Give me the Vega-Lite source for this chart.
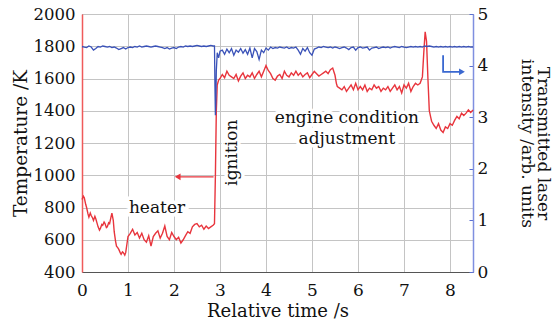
{
  "$schema": "https://vega.github.io/schema/vega-lite/v6.json",
  "width": 391,
  "height": 258,
  "autosize": {"type": "none"},
  "padding": {"left": 82, "top": 14, "right": 80, "bottom": 51},
  "background": "white",
  "config": {
    "view": {"stroke": "#555555", "strokeWidth": 1},
    "font": "DejaVu Serif",
    "axis": {"labelFont": "DejaVu Serif", "titleFont": "DejaVu Serif", "labelColor": "#111", "titleColor": "#111", "titleFontWeight": "normal"}
  },
  "datasets": {
    "temp": [
      {"t":0.00,"K":850},{"t":0.03,"K":870},{"t":0.05,"K":860},{"t":0.08,"K":820},{"t":0.10,"K":800},{"t":0.13,"K":760},{"t":0.15,"K":740},{"t":0.18,"K":765},{"t":0.20,"K":750},{"t":0.23,"K":735},{"t":0.25,"K":720},{"t":0.28,"K":745},{"t":0.30,"K":730},{"t":0.33,"K":700},{"t":0.35,"K":680},{"t":0.38,"K":660},{"t":0.40,"K":670},{"t":0.43,"K":695},{"t":0.45,"K":690},{"t":0.48,"K":710},{"t":0.50,"K":700},{"t":0.53,"K":675},{"t":0.55,"K":680},{"t":0.58,"K":705},{"t":0.60,"K":700},{"t":0.63,"K":740},{"t":0.65,"K":765},{"t":0.68,"K":720},{"t":0.70,"K":650},{"t":0.73,"K":590},{"t":0.75,"K":560},{"t":0.78,"K":550},{"t":0.80,"K":540},{"t":0.83,"K":520},{"t":0.85,"K":510},{"t":0.88,"K":525},{"t":0.90,"K":520},{"t":0.93,"K":505},{"t":0.95,"K":520},{"t":0.98,"K":580},{"t":1.00,"K":620},{"t":1.05,"K":640},{"t":1.10,"K":665},{"t":1.15,"K":630},{"t":1.20,"K":645},{"t":1.25,"K":610},{"t":1.30,"K":640},{"t":1.35,"K":600},{"t":1.40,"K":585},{"t":1.45,"K":625},{"t":1.50,"K":560},{"t":1.55,"K":620},{"t":1.60,"K":640},{"t":1.65,"K":655},{"t":1.70,"K":610},{"t":1.75,"K":640},{"t":1.80,"K":685},{"t":1.85,"K":620},{"t":1.90,"K":600},{"t":1.95,"K":645},{"t":2.00,"K":620},{"t":2.05,"K":600},{"t":2.10,"K":615},{"t":2.15,"K":580},{"t":2.20,"K":600},{"t":2.25,"K":625},{"t":2.30,"K":650},{"t":2.35,"K":640},{"t":2.40,"K":680},{"t":2.45,"K":695},{"t":2.50,"K":700},{"t":2.55,"K":680},{"t":2.60,"K":690},{"t":2.65,"K":665},{"t":2.70,"K":685},{"t":2.75,"K":670},{"t":2.80,"K":680},{"t":2.85,"K":690},{"t":2.88,"K":700},{"t":2.90,"K":1000},{"t":2.92,"K":1400},{"t":2.94,"K":1560},{"t":2.97,"K":1590},{"t":3.00,"K":1600},{"t":3.05,"K":1625},{"t":3.10,"K":1605},{"t":3.15,"K":1645},{"t":3.20,"K":1620},{"t":3.25,"K":1610},{"t":3.30,"K":1600},{"t":3.35,"K":1625},{"t":3.40,"K":1585},{"t":3.45,"K":1615},{"t":3.50,"K":1635},{"t":3.55,"K":1600},{"t":3.60,"K":1620},{"t":3.65,"K":1610},{"t":3.70,"K":1635},{"t":3.75,"K":1600},{"t":3.80,"K":1625},{"t":3.85,"K":1645},{"t":3.90,"K":1610},{"t":3.95,"K":1645},{"t":4.00,"K":1680},{"t":4.05,"K":1650},{"t":4.10,"K":1630},{"t":4.15,"K":1600},{"t":4.20,"K":1590},{"t":4.25,"K":1615},{"t":4.30,"K":1625},{"t":4.35,"K":1600},{"t":4.40,"K":1645},{"t":4.45,"K":1620},{"t":4.50,"K":1610},{"t":4.55,"K":1635},{"t":4.60,"K":1620},{"t":4.65,"K":1645},{"t":4.70,"K":1620},{"t":4.75,"K":1635},{"t":4.80,"K":1610},{"t":4.85,"K":1625},{"t":4.90,"K":1635},{"t":4.95,"K":1605},{"t":5.00,"K":1625},{"t":5.05,"K":1645},{"t":5.10,"K":1630},{"t":5.15,"K":1615},{"t":5.20,"K":1625},{"t":5.25,"K":1635},{"t":5.30,"K":1645},{"t":5.35,"K":1630},{"t":5.40,"K":1655},{"t":5.45,"K":1665},{"t":5.50,"K":1620},{"t":5.53,"K":1570},{"t":5.55,"K":1550},{"t":5.60,"K":1540},{"t":5.65,"K":1530},{"t":5.70,"K":1550},{"t":5.75,"K":1520},{"t":5.80,"K":1540},{"t":5.85,"K":1560},{"t":5.90,"K":1530},{"t":5.95,"K":1570},{"t":6.00,"K":1530},{"t":6.05,"K":1550},{"t":6.10,"K":1530},{"t":6.15,"K":1560},{"t":6.20,"K":1520},{"t":6.25,"K":1540},{"t":6.30,"K":1530},{"t":6.35,"K":1560},{"t":6.40,"K":1540},{"t":6.45,"K":1550},{"t":6.50,"K":1520},{"t":6.55,"K":1540},{"t":6.60,"K":1530},{"t":6.65,"K":1550},{"t":6.70,"K":1520},{"t":6.75,"K":1540},{"t":6.80,"K":1560},{"t":6.85,"K":1530},{"t":6.90,"K":1550},{"t":6.95,"K":1510},{"t":7.00,"K":1560},{"t":7.05,"K":1540},{"t":7.10,"K":1570},{"t":7.15,"K":1520},{"t":7.20,"K":1550},{"t":7.25,"K":1570},{"t":7.30,"K":1560},{"t":7.35,"K":1570},{"t":7.40,"K":1610},{"t":7.43,"K":1760},{"t":7.46,"K":1890},{"t":7.49,"K":1830},{"t":7.52,"K":1600},{"t":7.55,"K":1400},{"t":7.58,"K":1360},{"t":7.60,"K":1335},{"t":7.65,"K":1310},{"t":7.70,"K":1290},{"t":7.75,"K":1320},{"t":7.80,"K":1280},{"t":7.85,"K":1265},{"t":7.90,"K":1300},{"t":7.95,"K":1290},{"t":8.00,"K":1320},{"t":8.05,"K":1310},{"t":8.10,"K":1340},{"t":8.15,"K":1365},{"t":8.20,"K":1350},{"t":8.25,"K":1385},{"t":8.30,"K":1370},{"t":8.35,"K":1385},{"t":8.40,"K":1405},{"t":8.45,"K":1390},{"t":8.50,"K":1405}
    ],
    "trans": [
      {"t":0.00,"I":4.37},{"t":0.05,"I":4.36},{"t":0.10,"I":4.35},{"t":0.15,"I":4.38},{"t":0.20,"I":4.36},{"t":0.25,"I":4.30},{"t":0.30,"I":4.33},{"t":0.35,"I":4.37},{"t":0.40,"I":4.36},{"t":0.45,"I":4.38},{"t":0.50,"I":4.37},{"t":0.55,"I":4.36},{"t":0.60,"I":4.37},{"t":0.65,"I":4.35},{"t":0.70,"I":4.36},{"t":0.75,"I":4.34},{"t":0.80,"I":4.31},{"t":0.85,"I":4.33},{"t":0.90,"I":4.35},{"t":0.95,"I":4.32},{"t":1.00,"I":4.35},{"t":1.05,"I":4.36},{"t":1.10,"I":4.35},{"t":1.15,"I":4.37},{"t":1.20,"I":4.36},{"t":1.25,"I":4.38},{"t":1.30,"I":4.36},{"t":1.35,"I":4.37},{"t":1.40,"I":4.38},{"t":1.45,"I":4.37},{"t":1.50,"I":4.36},{"t":1.55,"I":4.37},{"t":1.60,"I":4.38},{"t":1.65,"I":4.37},{"t":1.70,"I":4.36},{"t":1.75,"I":4.35},{"t":1.80,"I":4.33},{"t":1.85,"I":4.35},{"t":1.90,"I":4.32},{"t":1.95,"I":4.34},{"t":2.00,"I":4.35},{"t":2.05,"I":4.33},{"t":2.10,"I":4.36},{"t":2.15,"I":4.37},{"t":2.20,"I":4.36},{"t":2.25,"I":4.38},{"t":2.30,"I":4.37},{"t":2.35,"I":4.38},{"t":2.40,"I":4.37},{"t":2.45,"I":4.38},{"t":2.50,"I":4.39},{"t":2.55,"I":4.38},{"t":2.60,"I":4.37},{"t":2.65,"I":4.38},{"t":2.70,"I":4.37},{"t":2.75,"I":4.38},{"t":2.80,"I":4.39},{"t":2.85,"I":4.38},{"t":2.88,"I":4.38},{"t":2.89,"I":3.6},{"t":2.90,"I":3.04},{"t":2.91,"I":3.3},{"t":2.92,"I":3.9},{"t":2.94,"I":4.25},{"t":2.97,"I":4.15},{"t":3.00,"I":4.28},{"t":3.05,"I":4.30},{"t":3.10,"I":4.22},{"t":3.15,"I":4.32},{"t":3.20,"I":4.25},{"t":3.25,"I":4.33},{"t":3.30,"I":4.20},{"t":3.35,"I":4.30},{"t":3.40,"I":4.26},{"t":3.45,"I":4.33},{"t":3.50,"I":4.24},{"t":3.55,"I":4.31},{"t":3.60,"I":4.22},{"t":3.65,"I":4.34},{"t":3.70,"I":4.15},{"t":3.75,"I":4.33},{"t":3.80,"I":4.27},{"t":3.85,"I":4.12},{"t":3.90,"I":4.30},{"t":3.95,"I":4.25},{"t":4.00,"I":4.34},{"t":4.05,"I":4.30},{"t":4.10,"I":4.36},{"t":4.15,"I":4.33},{"t":4.20,"I":4.35},{"t":4.25,"I":4.34},{"t":4.30,"I":4.36},{"t":4.35,"I":4.35},{"t":4.40,"I":4.34},{"t":4.45,"I":4.36},{"t":4.50,"I":4.33},{"t":4.55,"I":4.35},{"t":4.60,"I":4.34},{"t":4.65,"I":4.36},{"t":4.70,"I":4.30},{"t":4.75,"I":4.22},{"t":4.80,"I":4.33},{"t":4.85,"I":4.28},{"t":4.90,"I":4.35},{"t":4.95,"I":4.25},{"t":5.00,"I":4.20},{"t":5.05,"I":4.32},{"t":5.10,"I":4.34},{"t":5.15,"I":4.36},{"t":5.20,"I":4.35},{"t":5.25,"I":4.37},{"t":5.30,"I":4.36},{"t":5.35,"I":4.35},{"t":5.40,"I":4.36},{"t":5.45,"I":4.34},{"t":5.50,"I":4.36},{"t":5.55,"I":4.35},{"t":5.60,"I":4.33},{"t":5.65,"I":4.35},{"t":5.70,"I":4.36},{"t":5.75,"I":4.34},{"t":5.80,"I":4.31},{"t":5.85,"I":4.35},{"t":5.90,"I":4.36},{"t":5.95,"I":4.30},{"t":6.00,"I":4.35},{"t":6.05,"I":4.36},{"t":6.10,"I":4.34},{"t":6.15,"I":4.35},{"t":6.20,"I":4.36},{"t":6.25,"I":4.30},{"t":6.30,"I":4.34},{"t":6.35,"I":4.35},{"t":6.40,"I":4.36},{"t":6.45,"I":4.33},{"t":6.50,"I":4.35},{"t":6.55,"I":4.36},{"t":6.60,"I":4.35},{"t":6.65,"I":4.36},{"t":6.70,"I":4.34},{"t":6.75,"I":4.36},{"t":6.80,"I":4.37},{"t":6.85,"I":4.36},{"t":6.90,"I":4.35},{"t":6.95,"I":4.37},{"t":7.00,"I":4.36},{"t":7.05,"I":4.35},{"t":7.10,"I":4.36},{"t":7.15,"I":4.37},{"t":7.20,"I":4.36},{"t":7.25,"I":4.37},{"t":7.30,"I":4.36},{"t":7.35,"I":4.37},{"t":7.40,"I":4.36},{"t":7.45,"I":4.38},{"t":7.50,"I":4.37},{"t":7.55,"I":4.38},{"t":7.60,"I":4.37},{"t":7.65,"I":4.36},{"t":7.70,"I":4.37},{"t":7.75,"I":4.36},{"t":7.80,"I":4.37},{"t":7.85,"I":4.36},{"t":7.90,"I":4.37},{"t":7.95,"I":4.36},{"t":8.00,"I":4.37},{"t":8.05,"I":4.36},{"t":8.10,"I":4.37},{"t":8.15,"I":4.36},{"t":8.20,"I":4.37},{"t":8.25,"I":4.36},{"t":8.30,"I":4.37},{"t":8.35,"I":4.36},{"t":8.40,"I":4.37},{"t":8.45,"I":4.36},{"t":8.50,"I":4.36}
    ],
    "labels": [
      {"label":"heater","t":1.63,"K":800,"angle":0},
      {"label":"engine condition","t":5.76,"K":1355,"angle":0},
      {"label":"adjustment","t":5.76,"K":1225,"angle":0},
      {"label":"ignition","t":3.26,"K":1140,"angle":270}
    ],
    "redArrow": [{"t":2.86,"K":990},{"t":2.12,"K":990}],
    "redHead": [{"t":2.08,"K":990}],
    "blueArrow": [{"o":1,"t":7.85,"I":4.2},{"o":2,"t":7.85,"I":3.88},{"o":3,"t":8.22,"I":3.88}],
    "blueHead": [{"t":8.26,"I":3.88}]
  },
  "encoding": {
    "x": {"field": "t", "type": "quantitative", "scale": {"domain": [0, 8.5], "nice": false},
      "axis": {"title": "Relative time /s", "titleFontSize": 18, "titlePadding": 4, "labelFontSize": 17, "format": "d", "values": [0,0.5,1,1.5,2,2.5,3,3.5,4,4.5,5,5.5,6,6.5,7,7.5,8,8.5], "labelExpr": "datum.value % 1 === 0 ? datum.label : ''", "labelOverlap": false, "grid": true, "gridColor": "#c4c4c4", "gridWidth": 1, "tickSize": 0, "domainColor": "#555", "labelPadding": 10, "labelFlush": false}}
  },
  "layer": [
    {
      "encoding": {
        "y": {"field": "K", "type": "quantitative", "scale": {"domain": [400, 2000], "nice": false},
          "axis": {"title": "Temperature /K", "titleFontSize": 18.5, "titlePadding": 3, "labelFontSize": 16.5, "format": "d", "labelOverlap": false, "values": [400,600,800,1000,1200,1400,1600,1800,2000], "grid": true, "gridColor": "#c4c4c4", "gridWidth": 1, "tickSize": 0, "domainColor": "#f05a5a", "domainWidth": 1.5, "labelPadding": 7}}
      },
      "layer": [
        {
          "data": {"name": "temp"},
          "mark": {"type": "line", "color": "#e8353d", "strokeWidth": 1.4}
        },
        {
          "data": {"name": "redArrow"},
          "mark": {"type": "line", "color": "#e8353d", "strokeWidth": 1.3}
        },
        {
          "data": {"name": "redHead"},
          "mark": {"type": "point", "shape": "triangle-left", "filled": true, "color": "#e8353d", "size": 45, "opacity": 1}
        },
        {
          "data": {"name": "labels"},
          "mark": {"type": "text", "font": "DejaVu Serif", "fontSize": 17, "align": "center", "baseline": "middle", "stroke": "white", "strokeWidth": 7, "color": "white"},
          "encoding": {"text": {"field": "label"}, "angle": {"field": "angle", "type": "quantitative", "scale": null}}
        },
        {
          "data": {"name": "labels"},
          "mark": {"type": "text", "font": "DejaVu Serif", "fontSize": 17, "align": "center", "baseline": "middle", "color": "#111"},
          "encoding": {"text": {"field": "label"}, "angle": {"field": "angle", "type": "quantitative", "scale": null}}
        }
      ]
    },
    {
      "encoding": {
        "y": {"field": "I", "type": "quantitative", "scale": {"domain": [0, 5], "nice": false},
          "axis": {"orient": "right", "title": ["Transmitted laser", "intensity /arb. units"], "titleFontSize": 17, "titleLineHeight": 15.5, "titlePadding": 30, "labelFontSize": 17, "values": [0,1,2,3,4,5], "grid": false, "tickSize": -4, "tickColor": "#5a6fd0", "domainColor": "#7f8fe0", "domainWidth": 1.5, "labelPadding": 8}}
      },
      "layer": [
        {
          "data": {"name": "trans"},
          "mark": {"type": "line", "color": "#3a52b8", "strokeWidth": 1.3}
        },
        {
          "data": {"name": "blueArrow"},
          "mark": {"type": "line", "color": "#3a68d0", "strokeWidth": 1.8},
          "encoding": {"order": {"field": "o"}}
        },
        {
          "data": {"name": "blueHead"},
          "mark": {"type": "point", "shape": "triangle-right", "filled": true, "color": "#3a68d0", "size": 45, "opacity": 1}
        }
      ]
    }
  ],
  "resolve": {"scale": {"y": "independent"}}
}
